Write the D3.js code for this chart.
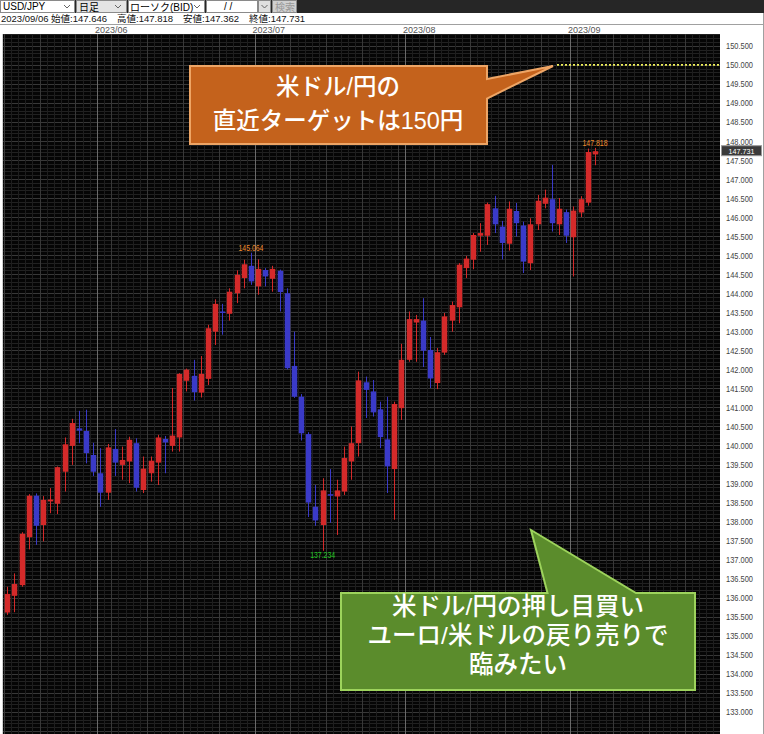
<!DOCTYPE html>
<html><head><meta charset="utf-8">
<script src="https://cdn.jsdelivr.net/npm/d3@7"></script>
<style>body{margin:0;background:#fff;overflow:hidden}svg{display:block}</style>
</head><body><svg id="c" width="764" height="734"></svg>
<script>
const dates = [
"2023-05-15","2023-05-16","2023-05-17","2023-05-18","2023-05-19","2023-05-22","2023-05-23","2023-05-24","2023-05-25","2023-05-26","2023-05-29","2023-05-30","2023-05-31",
"2023-06-01","2023-06-02","2023-06-05","2023-06-06","2023-06-07","2023-06-08","2023-06-09","2023-06-12","2023-06-13","2023-06-14","2023-06-15","2023-06-16","2023-06-19","2023-06-20","2023-06-21","2023-06-22","2023-06-23","2023-06-26","2023-06-27","2023-06-28","2023-06-29","2023-06-30",
"2023-07-03","2023-07-04","2023-07-05","2023-07-06","2023-07-07","2023-07-10","2023-07-11","2023-07-12","2023-07-13","2023-07-14","2023-07-17","2023-07-18","2023-07-19","2023-07-20","2023-07-21","2023-07-24","2023-07-25","2023-07-26","2023-07-27","2023-07-28","2023-07-31",
"2023-08-01","2023-08-02","2023-08-03","2023-08-04","2023-08-07","2023-08-08","2023-08-09","2023-08-10","2023-08-11","2023-08-14","2023-08-15","2023-08-16","2023-08-17","2023-08-18","2023-08-21","2023-08-22","2023-08-23","2023-08-24","2023-08-25","2023-08-28","2023-08-29","2023-08-30","2023-08-31",
"2023-09-01","2023-09-04","2023-09-05","2023-09-06"];
const openV = [135.61,136.05,136.33,137.59,138.68,137.91,138.53,138.47,139.31,139.99,140.45,140.38,139.75,
139.27,138.76,139.91,139.49,139.58,140.06,138.83,139.27,139.55,140.17,139.99,140.21,141.70,141.83,141.39,141.75,142.99,143.52,143.46,144.00,144.40,144.72,
144.18,144.61,144.38,144.59,144.00,142.09,141.28,140.30,138.39,137.91,138.72,138.66,138.79,139.58,140.06,141.66,141.42,140.95,140.16,139.38,140.98,
142.25,143.23,143.28,142.51,141.64,142.44,143.28,143.63,144.66,144.88,145.51,145.51,146.23,145.75,145.30,146.16,145.78,144.79,145.81,146.35,146.47,145.81,146.13,
145.47,146.12,146.38,147.646];
const highV = [136.29,136.64,137.72,138.72,138.74,138.67,138.88,139.45,140.21,140.70,140.91,140.94,140.07,
139.93,140.04,140.43,139.97,140.23,140.19,139.71,139.71,140.28,140.25,141.51,141.90,142.02,142.25,142.35,143.17,143.84,143.72,144.13,144.60,144.88,145.064,
144.89,144.66,144.72,144.62,144.13,142.99,141.35,140.35,138.96,139.14,139.38,139.10,139.97,140.50,141.94,141.81,141.72,141.15,141.28,141.15,142.67,
143.52,143.43,143.87,142.85,142.56,143.48,143.78,144.79,144.98,145.58,145.84,146.38,146.56,145.90,146.41,146.37,145.88,145.97,146.58,146.72,147.37,146.50,146.20,
146.28,146.55,147.80,147.818];
const lowV = [135.55,135.62,136.29,137.27,137.39,137.48,138.22,138.20,138.79,139.49,140.06,139.53,139.20,
138.39,138.57,139.20,139.10,139.01,138.79,138.75,139.05,138.96,139.27,139.84,139.84,141.42,141.18,141.26,141.59,142.64,142.91,143.28,143.74,144.13,144.22,
143.96,144.18,144.04,143.52,142.00,141.25,140.13,138.12,137.89,137.234,137.97,137.65,138.70,139.10,139.71,140.72,140.76,139.93,138.75,138.05,140.67,
142.20,142.20,142.06,141.51,141.48,142.38,142.99,143.21,144.40,144.63,145.09,145.27,145.58,144.89,145.12,145.49,144.53,144.61,145.66,146.23,145.62,145.53,145.32,
144.44,146.00,146.30,147.362];
const closeV = [136.10,136.36,137.68,138.68,137.89,138.57,138.58,139.43,140.03,140.59,140.39,139.80,139.31,
138.76,139.95,139.55,139.62,140.15,138.89,139.39,139.60,140.21,140.08,140.26,141.88,141.99,141.40,141.88,143.08,143.72,143.48,144.04,144.48,144.76,144.31,
144.64,144.44,144.64,144.03,142.03,141.28,140.32,138.50,138.03,138.82,138.68,138.82,139.67,140.06,141.71,141.46,140.87,140.22,139.45,141.09,142.25,
143.32,143.32,142.49,141.76,142.45,143.39,143.69,144.75,144.91,145.53,145.58,146.34,145.81,145.32,146.22,145.84,144.83,145.81,146.43,146.51,145.84,146.22,145.51,
146.17,146.47,147.71,147.731];
const priceTicks = [133.0,133.5,134.0,134.5,135.0,135.5,136.0,136.5,137.0,137.5,138.0,138.5,139.0,139.5,140.0,140.5,141.0,141.5,142.0,142.5,143.0,143.5,144.0,144.5,145.0,145.5,146.0,146.5,147.0,147.5,148.0,148.5,149.0,149.5,150.0,150.5];
const monthLabels = ["2023/06","2023/07","2023/08","2023/09"];
const monthStarts = ["2023-06-01","2023-07-03","2023-08-01","2023-09-01"];
const peakDates = ["2023-06-30","2023-07-14","2023-09-06"];
const peakTexts = ["145.064","137.234","147.818"];
const peakKinds = ["high","low","high"];
const lastPrice = 147.731;
const targetPrice = 150.0;
const infoTexts = ["2023/09/06","始値:147.646","高値:147.818","安値:147.362","終値:147.731"];
const calloutOrange = ["米ドル/円の","直近ターゲットは150円"];
const calloutGreen = ["米ドル/円の押し目買い","ユーロ/米ドルの戻り売りで","臨みたい"];

const svg = d3.select("#c");
const chartL = 3, chartR = 720, chartT = 34, chartB = 734;
const y = d3.scaleLinear().domain([132.42, 150.81]).range([chartB, chartT]);
const step = 7.167, x0 = 3.72;
const x = d3.scaleBand().domain(dates).range([x0, x0 + dates.length * step]).paddingInner(0.3).paddingOuter(0.15);
const cx = d => x(d) + x.bandwidth() / 2;
const jp = "'Liberation Sans','Noto Sans CJK JP',sans-serif";

// backgrounds
svg.append("rect").attr("width", 764).attr("height", 734).attr("fill", "#fff");
svg.append("rect").attr("width", 764).attr("height", 13).attr("fill", "#262626");
svg.append("line").attr("x1", 0).attr("x2", 764).attr("y1", 24.5).attr("y2", 24.5).attr("stroke", "#a0a0a0");
svg.append("line").attr("x1", 763.5).attr("x2", 763.5).attr("y1", 13).attr("y2", 734).attr("stroke", "#a0a0a0");
svg.append("rect").attr("x", chartL).attr("y", chartT).attr("width", chartR - chartL).attr("height", chartB - chartT).attr("fill", "#050505");
svg.append("line").attr("x1", 2.5).attr("x2", 2.5).attr("y1", chartT).attr("y2", chartB).attr("stroke", "#d0d0d0");

// toolbar
const tb = svg.append("g").attr("font-family", jp).attr("font-size", 10);
function box(x1, w, fill) {
  tb.append("rect").attr("x", x1 + 0.5).attr("y", 0.5).attr("width", w).attr("height", 12).attr("fill", fill).attr("stroke", "#8a8a8a");
}
function chev(xc) {
  tb.append("path").attr("d", `M${xc - 3},5 l3,3 l3,-3`).attr("fill", "none").attr("stroke", "#666");
}
box(0, 74, "#fff"); tb.append("text").attr("x", 3).attr("y", 10).text("USD/JPY"); chev(67);
box(76, 50, "#e4e4e4"); tb.append("text").attr("x", 79).attr("y", 10.5).text("日足"); chev(118);
box(128, 76, "#fff"); tb.append("text").attr("x", 130).attr("y", 10.5).text("ローソク(BID)"); chev(197);
box(206, 51, "#fff"); tb.append("text").attr("x", 224).attr("y", 10).text("/  /");
box(258, 12, "#e0e0e0"); chev(264.5);
box(272, 24, "#d0d0d0"); tb.append("text").attr("x", 275).attr("y", 10.5).attr("fill", "#999").text("検索");

// info line
const infoX = [1, 51, 117, 183, 249];
svg.append("g").attr("font-family", jp).attr("font-size", 9.5).attr("fill", "#111")
  .selectAll("text").data(infoTexts).join("text")
  .attr("x", (d, i) => infoX[i]).attr("y", 22).text(d => d);

// grid horizontal
const gGrid = svg.append("g");
d3.range(1325, 1509).forEach(t => {
  const yy = Math.round(y(t / 10)) + 0.5;
  if (yy < chartT || yy > chartB) return;
  gGrid.append("line").attr("x1", chartL).attr("x2", chartR).attr("y1", yy).attr("y2", yy)
    .attr("stroke", t % 5 === 0 ? "#383838" : "#212121");
});
// grid vertical
const monthIdx = monthStarts.map(d => dates.indexOf(d));
const nSlots = Math.floor((chartR - x0) / step);
for (let k = 0; k <= nSlots; k++) {
  const xx = Math.round(x0 + k * step) + 0.5;
  if (xx < chartL || xx > chartR) continue;
  let col = "#1e1e1e";
  let monday = k < dates.length ? new Date(dates[k] + "T00:00:00Z").getUTCDay() === 1 : (k - 85) % 5 === 0;
  if (monday) col = "#383838";
  if (monthIdx.includes(k)) col = "#6a6a6a";
  gGrid.append("line").attr("x1", xx).attr("x2", xx).attr("y1", chartT).attr("y2", chartB).attr("stroke", col);
}

// month labels
svg.append("g").attr("font-family", jp).attr("font-size", 9).attr("fill", "#555")
  .selectAll("text").data(monthLabels).join("text")
  .attr("x", (d, i) => x0 + monthIdx[i] * step - 2).attr("y", 33).text(d => d);

// candles
const candles = dates.map((d, i) => ({ d, o: openV[i], h: highV[i], l: lowV[i], c: closeV[i] }));
const gC = svg.append("g");
const up = "#d42a2a", down = "#3a3ac8";
gC.selectAll("line").data(candles).join("line")
  .attr("x1", d => Math.round(cx(d.d)) + 0.5).attr("x2", d => Math.round(cx(d.d)) + 0.5)
  .attr("y1", d => y(d.h)).attr("y2", d => y(d.l))
  .attr("stroke", d => d.c >= d.o ? up : down).attr("stroke-width", 1);
gC.selectAll("rect").data(candles).join("rect")
  .attr("x", d => Math.round(cx(d.d)) + 0.5 - 2.75).attr("width", 5.5)
  .attr("y", d => y(Math.max(d.o, d.c)))
  .attr("height", d => Math.max(1.5, Math.abs(y(d.o) - y(d.c))))
  .attr("fill", d => d.c >= d.o ? up : down);

// peak labels
svg.append("g").attr("font-family", "'Liberation Sans',sans-serif").attr("font-size", 9)
  .selectAll("text").data(peakDates).join("text")
  .attr("x", d => cx(d)).attr("text-anchor", "middle")
  .attr("y", (d, i) => { const c = candles[dates.indexOf(d)]; return peakKinds[i] === "high" ? y(c.h) - 1.5 : y(c.l) + 7.5; })
  .attr("textLength", 25).attr("lengthAdjust", "spacingAndGlyphs")
  .attr("fill", (d, i) => peakKinds[i] === "high" ? "#f08a2a" : "#22c822")
  .text((d, i) => peakTexts[i]);

// target dotted line
svg.append("line").attr("x1", 557).attr("x2", chartR).attr("y1", y(targetPrice)).attr("y2", y(targetPrice))
  .attr("stroke", "#f2f25a").attr("stroke-width", 1.6).attr("stroke-dasharray", "2,2");

// right axis
const ax = svg.append("g").attr("transform", "translate(725,0)")
  .call(d3.axisRight(y).tickValues(priceTicks).tickFormat(d3.format(".3f")).tickSize(0).tickPadding(1));
ax.select(".domain").remove();
ax.selectAll("text").attr("font-family", "'Liberation Sans',sans-serif").attr("font-size", 9.5)
  .attr("fill", "#444").attr("textLength", 27).attr("lengthAdjust", "spacingAndGlyphs");

// last price tag
svg.append("rect").attr("x", 721.5).attr("y", y(lastPrice) - 5.5).attr("width", 40).attr("height", 10)
  .attr("fill", "#3a3a3a").attr("stroke", "#999");
svg.append("text").attr("x", 741.5).attr("y", y(lastPrice) + 2.6).attr("text-anchor", "middle")
  .attr("font-family", "'Liberation Sans',sans-serif").attr("font-size", 8).attr("fill", "#fff")
  .attr("textLength", 26).attr("lengthAdjust", "spacingAndGlyphs").text(lastPrice.toFixed(3));

// callouts
const calloutFont = "'Liberation Sans','Noto Sans CJK JP',sans-serif";
svg.append("path").attr("d", "M190,66 H487 V79 L553,66 L487,98.5 V144 H190 Z")
  .attr("fill", "#c4621c").attr("stroke", "#eea565").attr("stroke-width", 2);
svg.append("g").attr("font-family", calloutFont).attr("font-size", 23.5).attr("font-weight", 500)
  .attr("fill", "#fff").attr("text-anchor", "middle")
  .selectAll("text").data(calloutOrange).join("text")
  .attr("x", 338).attr("y", (d, i) => 95 + i * 34).text(d => d);

svg.append("path").attr("d", "M341,593 H547.5 L531,530 L636,593 H695 V690 H341 Z")
  .attr("fill", "#5b8c2c").attr("stroke", "#9dd35c").attr("stroke-width", 2);
svg.append("g").attr("font-family", calloutFont).attr("font-size", 24.5).attr("font-weight", 500)
  .attr("fill", "#fff").attr("text-anchor", "middle")
  .selectAll("text").data(calloutGreen).join("text")
  .attr("x", 518).attr("y", (d, i) => 615 + i * 29).text(d => d);
</script></body></html>
